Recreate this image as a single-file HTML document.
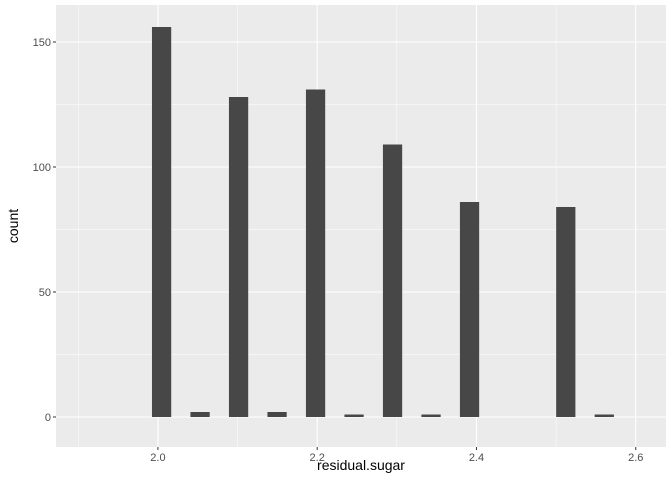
<!DOCTYPE html>
<html><head><meta charset="utf-8"><style>
body{margin:0;background:#fff}
svg text{font-family:"Liberation Sans",sans-serif}
</style></head><body>
<svg id="c" width="672" height="480" xmlns="http://www.w3.org/2000/svg"></svg>
<script>
const binIndex=[0,2,4,6,8,10,12,14,16,21,23];
const counts=[156,2,128,2,131,1,109,1,86,84,1];
const xTicks=[2.0,2.2,2.4,2.6];
const xTickLabels=["2.0","2.2","2.4","2.6"];
const xMinor=[1.9,2.1,2.3,2.5];
const yTicks=[0,50,100,150];
const yMinor=[25,75,125];
const binStart=1.9925, binW=0.02417;
const L=56,R=666,T=5,B=447;
const xs=v=>L+(v-1.872)/(2.638-1.872)*(R-L);
const ys=v=>417-v*2.5;
const svg=document.getElementById('c');
const NS="http://www.w3.org/2000/svg";
function mk(t,a,p){const e=document.createElementNS(NS,t);for(const k in a)e.setAttribute(k,a[k]);(p||svg).appendChild(e);return e;}
let bg=mk('rect',{x:L,y:T,width:R-L,height:B-T,fill:'#ebebeb'});


xMinor.forEach(v=>{let l=mk('line',{x1:xs(v),x2:xs(v),y1:T,y2:B,stroke:'#fff','stroke-width':0.5});});
yMinor.forEach(v=>{let l=mk('line',{x1:L,x2:R,y1:ys(v),y2:ys(v),stroke:'#fff','stroke-width':0.5});});
xTicks.forEach((v,i)=>{let l=mk('line',{x1:xs(v),x2:xs(v),y1:T,y2:B,stroke:'#fff','stroke-width':1.1});
let t=mk('line',{x1:xs(v),x2:xs(v),y1:B,y2:B+3,stroke:'#333'});
let tx=mk('text',{x:xs(v),y:B+14,'text-anchor':'middle','font-size':11,fill:'#4d4d4d'});tx.textContent=xTickLabels[i];});
yTicks.forEach(v=>{let l=mk('line',{x1:L,x2:R,y1:ys(v),y2:ys(v),stroke:'#fff','stroke-width':1.1});
let t=mk('line',{x1:L-3,x2:L,y1:ys(v),y2:ys(v),stroke:'#333'});
let tx=mk('text',{x:L-5,y:ys(v)+4,'text-anchor':'end','font-size':11,fill:'#4d4d4d'});tx.textContent=v;});
binIndex.forEach((b,i)=>{const x0=xs(binStart+b*binW),x1=xs(binStart+(b+1)*binW);
let r=mk('rect',{x:x0,y:ys(counts[i]),width:x1-x0,height:ys(0)-ys(counts[i]),fill:'#474747'});});
let xt=mk('text',{x:(L+R)/2,y:470,'text-anchor':'middle','font-size':14,fill:'#000'});xt.textContent='residual.sugar';
let yt=mk('text',{x:0,y:0,transform:`translate(18,${(T+B)/2}) rotate(-90)`,'text-anchor':'middle','font-size':14,fill:'#000'});yt.textContent='count';
</script>
</body></html>
